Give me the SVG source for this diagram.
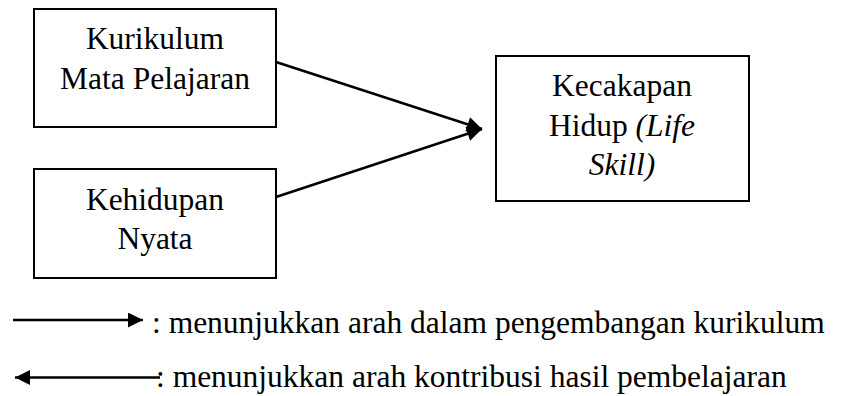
<svg xmlns="http://www.w3.org/2000/svg" width="844" height="396" viewBox="0 0 844 396">
<style>
.box{fill:#fff;stroke:#000;stroke-width:2}
.t{font-family:"Liberation Serif","Times New Roman",serif;font-size:31.5px;fill:#000}
.c{text-anchor:middle}
.ln{stroke:#000;stroke-width:2.5;fill:none}
</style>
<defs>
<marker id="ah" viewBox="0 0 10 10" refX="10" refY="5" markerWidth="6.2" markerHeight="6" markerUnits="strokeWidth" orient="auto">
<path d="M0,0 L10,5 L0,10 z" fill="#000"/>
</marker>
</defs>
<rect width="844" height="396" fill="#fff"/>
<g id="node-kurikulum">
<rect class="box" x="34" y="9" width="242" height="118"/>
<text class="t c" x="155" y="48.5">Kurikulum</text>
<text class="t c" x="155" y="88.5">Mata Pelajaran</text>
</g>
<g id="node-kehidupan">
<rect class="box" x="34" y="169" width="242" height="109"/>
<text class="t c" x="155" y="210">Kehidupan</text>
<text class="t c" x="155" y="249">Nyata</text>
</g>
<g id="node-kecakapan">
<rect class="box" x="496" y="56" width="253" height="145"/>
<text class="t c" x="622" y="95.5">Kecakapan</text>
<text class="t c" x="622" y="135.5">Hidup <tspan font-style="italic">(Life</tspan></text>
<text class="t c" x="622" y="175" font-style="italic">Skill)</text>
</g>
<g id="connectors">
<line class="ln" x1="276" y1="62" x2="482" y2="129" marker-end="url(#ah)"/>
<line class="ln" x1="276" y1="197" x2="482" y2="129" marker-end="url(#ah)"/>
</g>
<g id="legend">
<line class="ln" x1="13" y1="320" x2="143" y2="320" marker-end="url(#ah)"/>
<text class="t" x="152" y="333">: menunjukkan arah dalam pengembangan kurikulum</text>
<line class="ln" x1="160" y1="377.5" x2="15" y2="377.5" marker-end="url(#ah)"/>
<text class="t" x="156" y="386.5">: menunjukkan arah kontribusi hasil pembelajaran</text>
</g>
</svg>
